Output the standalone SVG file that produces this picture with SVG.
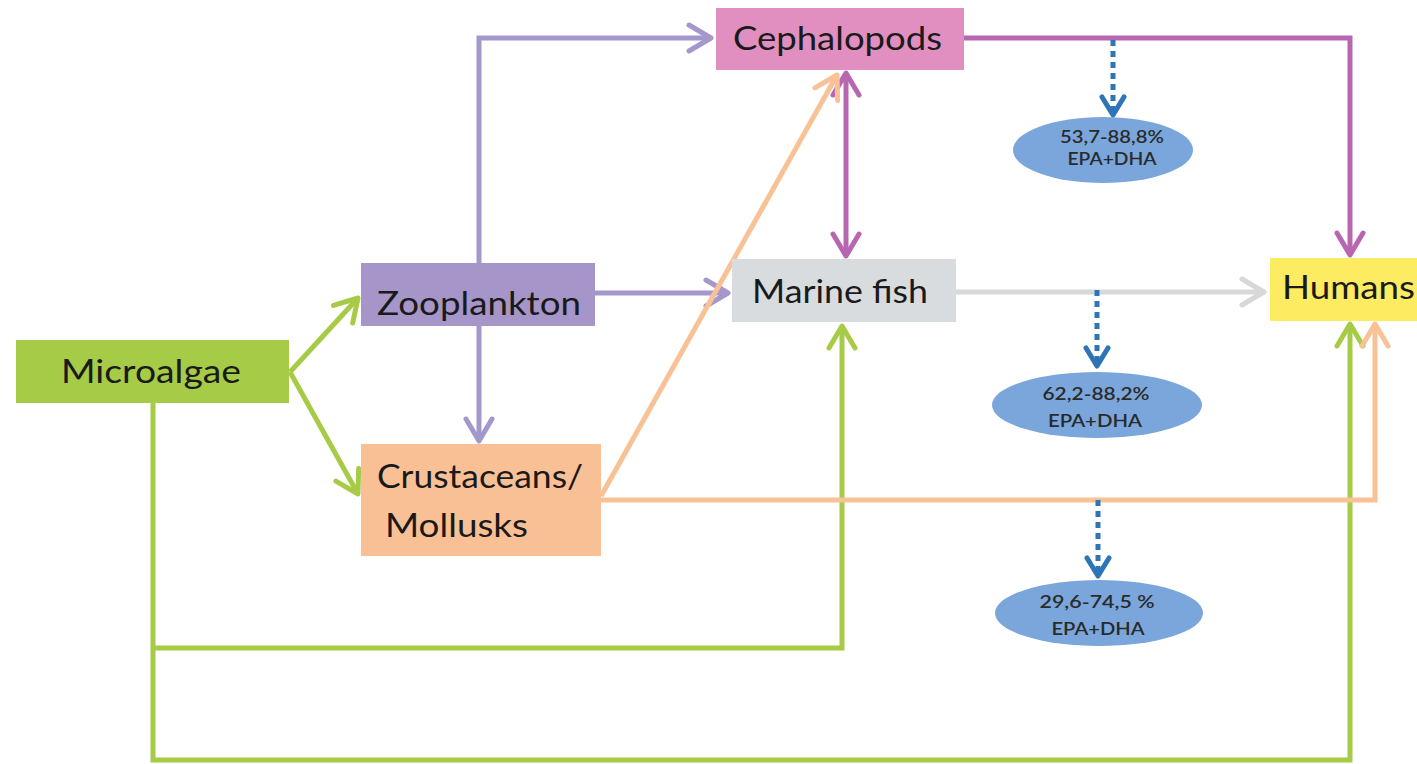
<svg xmlns="http://www.w3.org/2000/svg" width="1417" height="764" viewBox="0 0 1417 764">
<style>
.lbl{font-family:Lato,"Open Sans","Liberation Sans",sans-serif;font-size:33px;fill:#1a1a1a}
.pct{font-family:Lato,"Open Sans","Liberation Sans",sans-serif;font-size:17px;fill:#2a2a2a;font-weight:600}
.ln{fill:none;stroke-width:5;stroke-linejoin:miter}
.purple{stroke:#A597CB}
.magenta{stroke:#B866B2}
.green{stroke:#A7CA47}
.peach{stroke:#F8C196}
.grey{stroke:#D6D8DA}
.blue{stroke:#2E75B6;stroke-dasharray:6 5}
.ell{fill:#7AA6DB}
</style>
<defs>
<marker id="a-purple" markerUnits="userSpaceOnUse" markerWidth="32" markerHeight="34" viewBox="-26 -17 32 34" refX="0" refY="0" orient="auto"><path d="M-22,-13 L0,0 L-22,13" fill="none" stroke="#A597CB" stroke-width="5" stroke-linecap="round" stroke-linejoin="round"/></marker>
<marker id="a-magenta" markerUnits="userSpaceOnUse" markerWidth="32" markerHeight="34" viewBox="-26 -17 32 34" refX="0" refY="0" orient="auto-start-reverse"><path d="M-22,-13 L0,0 L-22,13" fill="none" stroke="#B866B2" stroke-width="5" stroke-linecap="round" stroke-linejoin="round"/></marker>
<marker id="a-green" markerUnits="userSpaceOnUse" markerWidth="32" markerHeight="34" viewBox="-26 -17 32 34" refX="0" refY="0" orient="auto"><path d="M-22,-13 L0,0 L-22,13" fill="none" stroke="#A7CA47" stroke-width="5" stroke-linecap="round" stroke-linejoin="round"/></marker>
<marker id="a-peach" markerUnits="userSpaceOnUse" markerWidth="32" markerHeight="34" viewBox="-26 -17 32 34" refX="0" refY="0" orient="auto"><path d="M-22,-13 L0,0 L-22,13" fill="none" stroke="#F8C196" stroke-width="5" stroke-linecap="round" stroke-linejoin="round"/></marker>
<marker id="a-grey" markerUnits="userSpaceOnUse" markerWidth="32" markerHeight="34" viewBox="-26 -17 32 34" refX="0" refY="0" orient="auto"><path d="M-22,-13 L0,0 L-22,13" fill="none" stroke="#D6D8DA" stroke-width="5" stroke-linecap="round" stroke-linejoin="round"/></marker>
<marker id="a-blue" markerUnits="userSpaceOnUse" markerWidth="32" markerHeight="34" viewBox="-26 -17 32 34" refX="0" refY="0" orient="auto"><path d="M-18,-11 L0,0 L-18,11" fill="none" stroke="#2E75B6" stroke-width="5" stroke-dasharray="none" stroke-linecap="round" stroke-linejoin="round"/></marker>
</defs>
<rect width="1417" height="764" fill="#ffffff"/>
<g id="connectors">
<path class="ln purple" d="M479,263 L479,38 L711,38" marker-end="url(#a-purple)"/>
<path class="ln purple" d="M595,293 L728,293" marker-end="url(#a-purple)"/>
<path class="ln purple" d="M479,326 L479,441" marker-end="url(#a-purple)"/>
<path class="ln magenta" d="M964,38 L1350,38 L1350,255" marker-end="url(#a-magenta)"/>
<path class="ln magenta" d="M846,73 L846,256" marker-start="url(#a-magenta)" marker-end="url(#a-magenta)"/>
<path class="ln green" d="M290,372 L358,298" marker-end="url(#a-green)"/>
<path class="ln green" d="M290,372 L358,494" marker-end="url(#a-green)"/>
<path class="ln green" d="M153,403 L153,760 L1350,760 L1350,324" marker-end="url(#a-green)"/>
<path class="ln green" d="M153,648 L842,648 L842,326" marker-end="url(#a-green)"/>
<path class="ln peach" d="M601,496 L837,75" marker-end="url(#a-peach)"/>
<path class="ln peach" d="M601,500 L1375,500 L1375,324" marker-end="url(#a-peach)"/>
<path class="ln grey" d="M956,292 L1264,292" marker-end="url(#a-grey)"/>
<path class="ln blue" d="M1113,40 L1113,115" marker-end="url(#a-blue)"/>
<path class="ln blue" d="M1097,290 L1097,366" marker-end="url(#a-blue)"/>
<path class="ln blue" d="M1098,500 L1098,576" marker-end="url(#a-blue)"/>
</g>
<g id="cephalopods">
<rect x="716" y="8" width="248" height="62" fill="#E18FC0"/>
<text class="lbl" x="733" y="50" textLength="209" lengthAdjust="spacingAndGlyphs">Cephalopods</text>
</g>
<g id="zooplankton">
<rect x="361" y="263" width="234" height="63" fill="#A595C8"/>
<text class="lbl" x="377" y="315" textLength="204" lengthAdjust="spacingAndGlyphs">Zooplankton</text>
</g>
<g id="microalgae">
<rect x="16" y="340" width="273" height="63" fill="#A6CB46"/>
<text class="lbl" x="61" y="383" textLength="180" lengthAdjust="spacingAndGlyphs">Microalgae</text>
</g>
<g id="crustaceans">
<rect x="361" y="444" width="240" height="112" fill="#F9C095"/>
<text class="lbl" x="377" y="488" textLength="206" lengthAdjust="spacingAndGlyphs">Crustaceans/</text>
<text class="lbl" x="385" y="537" textLength="143" lengthAdjust="spacingAndGlyphs">Mollusks</text>
</g>
<g id="marine-fish">
<rect x="732" y="259" width="224" height="63" fill="#D8DCDF"/>
<text class="lbl" x="752" y="303" textLength="176" lengthAdjust="spacingAndGlyphs">Marine fish</text>
</g>
<g id="humans">
<rect x="1270" y="258" width="147" height="63" fill="#FDEB62"/>
<text class="lbl" x="1282" y="299" textLength="133" lengthAdjust="spacingAndGlyphs">Humans</text>
</g>
<g id="ellipse-1">
<ellipse class="ell" cx="1103" cy="150" rx="90" ry="33"/>
<text class="pct" x="1112" y="143" text-anchor="middle" textLength="104" lengthAdjust="spacingAndGlyphs">53,7-88,8%</text>
<text class="pct" x="1112" y="165" text-anchor="middle" textLength="89" lengthAdjust="spacingAndGlyphs">EPA+DHA</text>
</g>
<g id="ellipse-2">
<ellipse class="ell" cx="1097" cy="405" rx="105" ry="33"/>
<text class="pct" x="1096" y="400" text-anchor="middle" textLength="107" lengthAdjust="spacingAndGlyphs">62,2-88,2%</text>
<text class="pct" x="1095" y="427" text-anchor="middle" textLength="94" lengthAdjust="spacingAndGlyphs">EPA+DHA</text>
</g>
<g id="ellipse-3">
<ellipse class="ell" cx="1099" cy="613" rx="104" ry="33"/>
<text class="pct" x="1097" y="608" text-anchor="middle" textLength="115" lengthAdjust="spacingAndGlyphs">29,6-74,5 %</text>
<text class="pct" x="1098" y="635" text-anchor="middle" textLength="93" lengthAdjust="spacingAndGlyphs">EPA+DHA</text>
</g>
</svg>
